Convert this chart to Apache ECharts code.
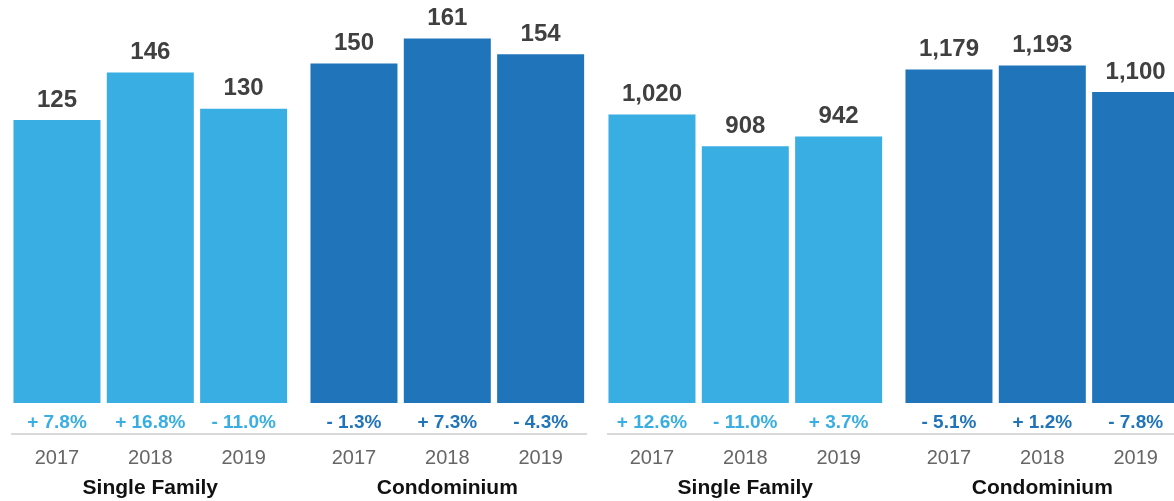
<!DOCTYPE html>
<html>
<head>
<meta charset="utf-8">
<script src="https://cdn.jsdelivr.net/npm/echarts@6/dist/echarts.min.js"></script>
<style>
  html, body { margin: 0; padding: 0; background: #fff; }
  #chart { width: 1174px; height: 501px; }
</style>
</head>
<body>
<div id="chart"></div>
<script>
// data
var years = ['2017', '2018', '2019'];
var groups = ['Single Family', 'Condominium', 'Single Family', 'Condominium'];
var leftSingle = [125, 146, 130];
var leftCondo = [150, 161, 154];
var rightSingle = [1020, 908, 942];
var rightCondo = [1179, 1193, 1100];
var leftSinglePct = [7.8, 16.8, -11.0];
var leftCondoPct = [-1.3, 7.3, -4.3];
var rightSinglePct = [12.6, -11.0, 3.7];
var rightCondoPct = [-5.1, 1.2, -7.8];

var LIGHT = '#39aee3';
var DARK = '#1f74ba';
var FONT = '"Liberation Sans", Arial, Helvetica, sans-serif';

var values = [leftSingle, leftCondo, rightSingle, rightCondo];
var pcts = [leftSinglePct, leftCondoPct, rightSinglePct, rightCondoPct];
var colors = [LIGHT, DARK, LIGHT, DARK];
var yMax = [178, 178, 1425, 1425];
var gridLeft = [10.3, 307.3, 605.3, 902.3];

function fmtPct(v) {
  return (v < 0 ? '- ' : '+ ') + Math.abs(v).toFixed(1) + '%';
}

var grids = [], xAxes = [], yAxes = [], series = [];
for (var i = 0; i < 4; i++) {
  grids.push({ left: gridLeft[i], width: 280, top: 0, bottom: 98, outerBoundsMode: 'none', containLabel: false });
  xAxes.push({
    gridIndex: i,
    type: 'category',
    data: years,
    offset: 31,
    name: groups[i],
    nameLocation: 'middle',
    nameGap: 44,
    nameTextStyle: { fontFamily: FONT, fontSize: 21, fontWeight: 'bold', color: '#111' },
    axisLine: { show: false },
    axisTick: { alignWithLabel: true, length: 6, lineStyle: { color: '#d9d9d9', width: 2 } },
    axisLabel: { margin: 14, fontFamily: FONT, fontSize: 20, color: '#666' }
  });
  yAxes.push({ gridIndex: i, type: 'value', min: 0, max: yMax[i], show: false, splitLine: { show: false } });
  (function (idx) {
    series.push({
      type: 'bar',
      xAxisIndex: idx,
      yAxisIndex: idx,
      data: values[idx],
      barWidth: 87,
      barGap: '-100%',
      itemStyle: { color: colors[idx] },
      label: {
        show: true,
        position: 'top',
        distance: 8,
        fontFamily: FONT,
        fontSize: 24,
        fontWeight: 'bold',
        color: '#404040',
        formatter: function (p) { return p.value.toLocaleString('en-US'); }
      },
      silent: true
    });
    series.push({
      type: 'bar',
      xAxisIndex: idx,
      yAxisIndex: idx,
      data: values[idx],
      barWidth: 87,
      barGap: '-100%',
      itemStyle: { color: 'rgba(0,0,0,0)' },
      label: {
        show: true,
        position: 'bottom',
        distance: 10,
        fontFamily: FONT,
        fontSize: 19,
        fontWeight: 'bold',
        color: colors[idx],
        formatter: function (p) { return fmtPct(pcts[idx][p.dataIndex]); }
      },
      silent: true
    });
  })(i);
}

var chart = echarts.init(document.getElementById('chart'), null, { renderer: 'canvas' });
chart.setOption({
  animation: false,
  grid: grids,
  xAxis: xAxes,
  yAxis: yAxes,
  series: series,
  graphic: [
    { type: 'line', shape: { x1: 11, y1: 434, x2: 587, y2: 434 }, style: { stroke: '#d9d9d9', lineWidth: 2 } },
    { type: 'line', shape: { x1: 607, y1: 434, x2: 1174, y2: 434 }, style: { stroke: '#d9d9d9', lineWidth: 2 } }
  ]
});
</script>
</body>
</html>
